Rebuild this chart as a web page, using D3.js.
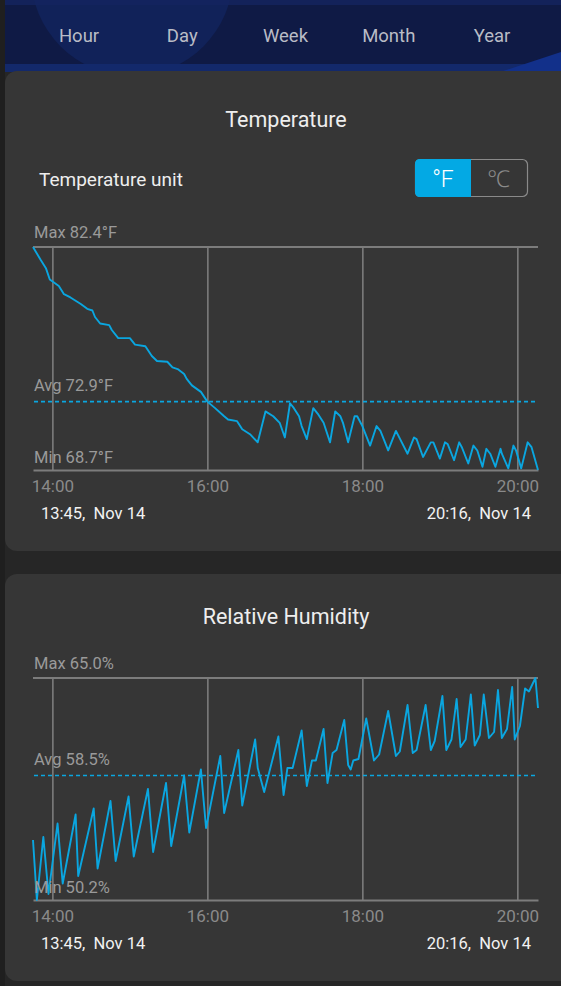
<!DOCTYPE html>
<html>
<head>
<meta charset="utf-8">
<script src="https://cdn.jsdelivr.net/npm/d3@7"></script>
<style>
  body { margin: 0; background: #262626; overflow: hidden; }
  svg { display: block; font-family: Roboto, "Noto Sans", sans-serif; }
</style>
</head>
<body>
<div id="chart"></div>
<script>
// ---- data ----
const tabs = ["Hour", "Day", "Week", "Month", "Year"]
const tickLabels = ["14:00", "16:00", "18:00", "20:00"]
const rangeLabels = ["13:45", "20:16"]
const dateLabel = "Nov 14"

const tempTimes = ["13:45","13:51","13:55","13:58","14:05","14:09","14:14","14:18","14:22","14:27",
  "14:31","14:33","14:37","14:44","14:46","14:51","15:00","15:04","15:12","15:17",
  "15:21","15:29","15:33","15:37","15:42","15:44","15:48","15:55","16:00","16:06",
  "16:13","16:16","16:23","16:27","16:33","16:39","16:45","16:51","16:56","17:00",
  "17:04","17:07","17:11","17:13","17:17","17:22","17:26","17:30","17:35","17:39",
  "17:43","17:45","17:49","17:54","17:56","18:00","18:06","18:11","18:14","18:20",
  "18:26","18:35","18:40","18:42","18:47","18:53","18:55","19:00","19:04","19:06",
  "19:11","19:15","19:17","19:22","19:26","19:29","19:33","19:36","19:39","19:43",
  "19:47","19:48","19:53","19:57","19:59","20:03","20:08","20:11","20:16"]
const tempValues = [82.4,81.6,81.1,80.4,80.0,79.5,79.3,79.1,78.9,78.6,
  78.5,78.1,77.7,77.6,77.3,76.8,76.8,76.4,76.3,75.7,
  75.4,75.35,75.0,74.9,74.6,74.3,73.9,73.5,72.9,72.5,
  72.0,71.8,71.7,71.2,70.9,70.4,72.3,72.0,71.6,70.7,
  72.8,72.5,72.0,71.4,70.6,72.5,72.1,71.6,70.4,72.3,
  72.0,71.6,70.4,72.0,72.0,71.4,70.2,71.4,71.1,69.9,
  71.1,69.7,70.7,70.6,69.5,70.4,70.4,69.4,70.4,70.3,
  69.3,70.4,70.1,69.1,70.2,69.9,68.9,70.0,69.7,68.9,
  70.0,69.7,68.8,70.2,69.9,68.8,70.4,70.1,68.7]
const tempStats = [82.4, 72.9, 68.7]   // max, avg, min

const humTimes = ["13:45","13:48","13:53","13:57","14:04","14:08","14:18","14:20","14:32","14:35",
  "14:45","14:49","14:59","15:03","15:14","15:18","15:28","15:32","15:42","15:46",
  "15:55","15:59","16:10","16:13","16:24","16:27","16:37","16:39","16:44","16:55",
  "16:59","17:02","17:06","17:13","17:17","17:21","17:24","17:26","17:30","17:33",
  "17:37","17:40","17:46","17:49","17:51","17:53","17:57","18:03","18:09","18:13",
  "18:20","18:26","18:29","18:35","18:39","18:42","18:49","18:53","18:56","19:02",
  "19:05","19:09","19:13","19:16","19:20","19:24","19:27","19:31","19:34","19:38",
  "19:42","19:45","19:48","19:52","19:56","19:58","20:02","20:06","20:09","20:14","20:16"]
const humValues = [54.2,50.2,54.4,50.6,55.3,51.3,55.9,51.8,56.3,52.3,
  56.8,52.8,57.1,53.1,57.6,53.4,58.0,53.8,58.5,54.7,
  58.9,55.0,59.8,56.0,60.2,56.5,60.9,59.0,57.4,61.1,
  57.2,59.0,59.0,61.5,57.8,59.5,59.5,60.2,61.6,58.0,
  60.0,60.2,62.2,59.2,58.9,59.5,59.6,62.3,59.5,59.9,
  62.8,59.8,60.1,63.2,60.0,60.2,63.2,60.2,60.8,63.8,
  60.2,60.9,63.6,60.4,60.9,63.9,60.5,61.2,63.9,61.0,
  61.4,64.2,61.0,61.6,64.4,60.9,61.8,64.3,64.1,65.0,63.0]
const humStats = [65.0, 58.5, 50.2]    // max, avg, min

const width = 561
const height = 986
const lineColor = "#0aa6e0"
const gridColor = "#7c7c7c"
const parseTime = d3.timeParse("%H:%M")

const svg = d3.select("#chart")
  .append("svg")
  .attr("width", width)
  .attr("height", height)

svg.append("rect").attr("width", width).attr("height", height).attr("fill", "#262626")

// Header with the period tabs
const header = svg.append("g")
header.append("rect").attr("x", 0).attr("y", 0).attr("width", width).attr("height", 72).attr("fill", "#0f1a45")
header.append("circle").attr("cx", 132).attr("cy", -25).attr("r", 101).attr("fill", "#112259")
header.append("rect").attr("x", 0).attr("y", 0).attr("width", width).attr("height", 5).attr("fill", "#14245f").attr("opacity", 0.8)
header.append("rect").attr("x", 0).attr("y", 64).attr("width", width).attr("height", 8).attr("fill", "#13296b")
header.append("path").attr("d", "M500,72 L561,52 L561,72 Z").attr("fill", "#12308a")

const tabScale = d3.scalePoint().domain(tabs).range([79, 492])
header.selectAll("text.tab")
  .data(tabs)
  .join("text")
  .attr("class", "tab")
  .attr("x", d => tabScale(d))
  .attr("y", 42)
  .attr("text-anchor", "middle")
  .attr("font-size", 18.5)
  .attr("fill", "#b9bcc6")
  .text(d => d)

// left dark strip
svg.append("rect").attr("x", 0).attr("y", 0).attr("width", 5).attr("height", height).attr("fill", "#1f1f1f")

// Cards
svg.append("rect").attr("x", 5).attr("y", 71).attr("width", 600).attr("height", 480).attr("rx", 12).attr("fill", "#363636")
svg.append("rect").attr("x", 5).attr("y", 574).attr("width", 600).attr("height", 407).attr("rx", 12).attr("fill", "#363636")

svg.append("text")
  .attr("x", 286).attr("y", 127)
  .attr("text-anchor", "middle")
  .attr("font-size", 21.5)
  .attr("fill", "#eeeeee")
  .text("Temperature")

svg.append("text")
  .attr("x", 39).attr("y", 186)
  .attr("font-size", 19)
  .attr("fill", "#eeeeee")
  .text("Temperature unit")

// unit toggle
const toggle = svg.append("g")
toggle.append("rect")
  .attr("x", 415.5).attr("y", 159.5).attr("width", 112).attr("height", 37).attr("rx", 5)
  .attr("fill", "none").attr("stroke", "#8a8a8a").attr("stroke-width", 1.2)
toggle.append("path")
  .attr("d", "M471,159 L420,159 Q415,159 415,164 L415,192 Q415,197 420,197 L471,197 Z")
  .attr("fill", "#03a9e4")
toggle.append("text").attr("x", 443).attr("y", 187).attr("text-anchor", "middle")
  .attr("font-size", 23).attr("font-weight", 300).attr("fill", "#ffffff").text("°F")
toggle.append("text").attr("x", 499).attr("y", 187).attr("text-anchor", "middle")
  .attr("font-size", 23).attr("font-weight", 300).attr("fill", "#8a8a8a").text("℃")

svg.append("text")
  .attr("x", 286).attr("y", 624)
  .attr("text-anchor", "middle")
  .attr("font-size", 21.5)
  .attr("fill", "#eeeeee")
  .text("Relative Humidity")

function drawPanel(top, bottom, times, values, stats, unit) {
  const x = d3.scaleTime()
    .domain(rangeLabels.map(parseTime))
    .range([33, 538])
  const y = d3.scaleLinear()
    .domain([stats[2], stats[0]])
    .range([bottom, top])

  const g = svg.append("g")

  // top border
  g.append("line")
    .attr("x1", 33).attr("x2", 538)
    .attr("y1", y(stats[0])).attr("y2", y(stats[0]))
    .attr("stroke", gridColor).attr("stroke-width", 2)

  // bottom axis with vertical grid lines
  const axis = g.append("g")
    .attr("transform", `translate(0,${bottom})`)
    .call(d3.axisBottom(x)
      .tickValues(tickLabels.map(parseTime))
      .tickFormat(d3.timeFormat("%H:%M"))
      .tickSizeInner(-(bottom - top))
      .tickSizeOuter(0)
      .tickPadding(10))
  axis.select(".domain").attr("stroke", gridColor).attr("stroke-width", 2)
  axis.selectAll(".tick line").attr("stroke", gridColor).attr("stroke-width", 1.6)
  axis.selectAll(".tick text")
    .attr("fill", "#8a8a8a")
    .attr("font-size", 17)
    .attr("font-family", "Roboto, sans-serif")

  // average line
  g.append("line")
    .attr("x1", 34).attr("x2", 536)
    .attr("y1", y(stats[1])).attr("y2", y(stats[1]))
    .attr("stroke", lineColor).attr("stroke-width", 1.6)
    .attr("stroke-dasharray", "4,3")

  const series = times.map((t, i) => ({ t: parseTime(t), v: values[i] }))
  g.append("path")
    .datum(series)
    .attr("fill", "none")
    .attr("stroke", lineColor)
    .attr("stroke-width", 1.9)
    .attr("stroke-linejoin", "round")
    .attr("d", d3.line().x(d => x(d.t)).y(d => y(d.v)))

  // max / avg / min labels
  const fmt = d3.format(".1f")
  const labels = [
    { name: "Max", v: stats[0], dy: -9 },
    { name: "Avg", v: stats[1], dy: -11 },
    { name: "Min", v: stats[2], dy: -7 }
  ]
  g.selectAll("text.stat")
    .data(labels)
    .join("text")
    .attr("class", "stat")
    .attr("x", 34)
    .attr("y", d => y(d.v) + d.dy)
    .attr("font-size", 16.5)
    .attr("fill", "#9a9a9a")
    .text(d => `${d.name} ${fmt(d.v)}${unit}`)

  // start / end of range
  g.append("text")
    .attr("x", 41).attr("y", bottom + 49)
    .attr("font-size", 16.5).attr("fill", "#f2f2f2")
    .attr("xml:space", "preserve")
    .text(`${rangeLabels[0]},  ${dateLabel}`)
  g.append("text")
    .attr("x", 531).attr("y", bottom + 49)
    .attr("text-anchor", "end")
    .attr("font-size", 16.5).attr("fill", "#f2f2f2")
    .attr("xml:space", "preserve")
    .text(`${rangeLabels[1]},  ${dateLabel}`)
}

drawPanel(247, 470, tempTimes, tempValues, tempStats, "°F")
drawPanel(678, 900, humTimes, humValues, humStats, "%")
</script>
</body>
</html>
